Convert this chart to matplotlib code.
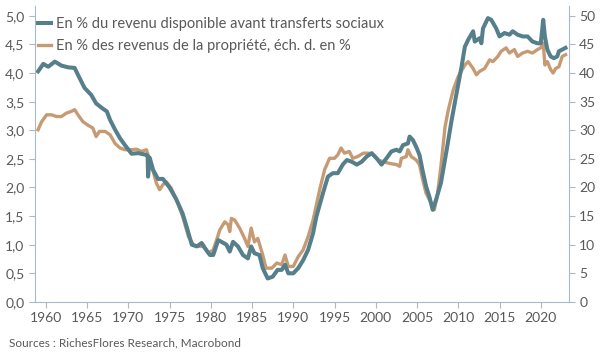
import matplotlib.pyplot as plt
from matplotlib.ticker import FuncFormatter, MultipleLocator

plt.rcParams['font.family'] = ['Lato', 'DejaVu Sans']

# En % du revenu disponible avant transferts sociaux (échelle gauche)
rev_years = [1959.07, 1959.7, 1960.3, 1961.1, 1961.9, 1962.7, 1963.5, 1963.9, 1964.7, 1965.5,
             1966.1, 1966.8, 1967.4, 1967.8, 1968.4, 1969.0, 1969.6, 1970.4, 1971.2, 1972.2,
             1972.35, 1972.4, 1972.6, 1973.0, 1973.6, 1974.2, 1975.0, 1975.8, 1976.6, 1977.1,
             1977.7, 1978.3, 1978.9, 1979.3, 1979.9, 1980.3, 1980.9, 1981.3, 1981.9, 1982.3,
             1982.7, 1983.3, 1983.9, 1984.5, 1984.9, 1985.3, 1985.9, 1986.3, 1986.9, 1987.5,
             1988.1, 1988.6, 1989.0, 1989.4, 1990.0, 1990.6, 1991.2, 1991.8, 1992.4, 1992.8,
             1993.6, 1994.2, 1994.8, 1995.4, 1996.0, 1996.5, 1997.1, 1997.7, 1998.3, 1998.9,
             1999.5, 2000.1, 2000.7, 2001.3, 2001.9, 2002.5, 2002.9, 2003.3, 2003.9, 2004.1,
             2004.5, 2004.9, 2005.3, 2005.7, 2006.1, 2006.5, 2006.9, 2007.3, 2007.9, 2008.6,
             2009.2, 2009.8, 2010.4, 2010.8, 2011.2, 2011.8, 2012.0, 2012.6, 2012.8, 2013.0,
             2013.6, 2014.0, 2014.6, 2015.0, 2015.6, 2016.2, 2016.6, 2017.2, 2017.8, 2018.4,
             2019.0, 2019.6, 2020.0, 2020.3, 2020.5, 2020.8, 2021.2, 2021.6, 2022.0, 2022.2,
             2022.6, 2023.0]
rev_vals = [4.03, 4.16, 4.11, 4.20, 4.13, 4.10, 4.09, 3.97, 3.74, 3.62,
            3.47, 3.39, 3.33, 3.18, 3.01, 2.86, 2.74, 2.59, 2.60, 2.57,
            2.55, 2.19, 2.52, 2.31, 2.15, 2.15, 2.00, 1.80, 1.54, 1.30,
            1.00, 0.97, 1.03, 0.94, 0.82, 0.82, 1.08, 1.05, 1.00, 0.88,
            1.05, 0.97, 0.82, 0.76, 0.97, 0.85, 0.82, 0.59, 0.41, 0.44,
            0.56, 0.56, 0.65, 0.50, 0.50, 0.59, 0.73, 0.91, 1.20, 1.49,
            1.90, 2.19, 2.25, 2.25, 2.40, 2.48, 2.45, 2.40, 2.45, 2.54,
            2.60, 2.51, 2.40, 2.51, 2.63, 2.66, 2.63, 2.74, 2.77, 2.89,
            2.83, 2.71, 2.57, 2.28, 2.02, 1.84, 1.61, 1.78, 2.08, 2.66,
            3.18, 3.65, 4.11, 4.46, 4.58, 4.73, 4.55, 4.61, 4.52, 4.78,
            4.96, 4.93, 4.78, 4.64, 4.70, 4.67, 4.73, 4.67, 4.64, 4.64,
            4.55, 4.52, 4.52, 4.93, 4.64, 4.41, 4.29, 4.26, 4.29, 4.38,
            4.41, 4.44]

# En % des revenus de la propriété (échelle droite)
prop_years = [1959.07, 1959.5, 1960.1, 1960.7, 1961.3, 1961.9, 1962.5, 1963.1, 1963.5, 1963.9,
              1964.5, 1965.1, 1965.7, 1966.1, 1966.5, 1967.2, 1967.8, 1968.4, 1969.0, 1969.6,
              1970.4, 1971.0, 1971.6, 1972.2, 1972.8, 1973.4, 1973.8, 1974.2, 1974.6, 1975.2,
              1976.0, 1976.6, 1977.3, 1977.9, 1978.5, 1979.1, 1979.7, 1980.3, 1980.7, 1981.1,
              1981.7, 1982.1, 1982.3, 1982.5, 1982.9, 1983.5, 1984.1, 1984.5, 1984.9, 1985.3,
              1985.7, 1986.3, 1986.7, 1987.4, 1988.0, 1988.6, 1989.0, 1989.4, 1990.0, 1990.6,
              1991.2, 1991.8, 1992.4, 1993.2, 1993.8, 1994.4, 1995.0, 1995.4, 1995.8, 1996.2,
              1996.8, 1997.2, 1997.8, 1998.5, 1999.1, 1999.7, 2000.3, 2000.9, 2001.7, 2002.5,
              2002.9, 2003.1, 2003.7, 2003.9, 2004.3, 2004.9, 2005.3, 2005.7, 2006.1, 2006.7,
              2007.1, 2007.5, 2007.9, 2008.4, 2008.8, 2009.4, 2010.0, 2010.8, 2011.2, 2011.8,
              2012.2, 2012.6, 2013.2, 2013.8, 2014.2, 2014.8, 2015.2, 2015.8, 2016.2, 2016.8,
              2017.2, 2017.8, 2018.4, 2019.0, 2019.6, 2020.0, 2020.3, 2020.5, 2020.8, 2021.2,
              2021.5, 2021.8, 2022.2, 2022.6, 2023.0]
prop_vals = [30.1, 31.5, 32.7, 32.7, 32.4, 32.4, 33.0, 33.3, 33.6, 32.7,
             31.5, 30.9, 30.4, 28.9, 29.8, 29.8, 29.2, 27.7, 26.9, 26.6,
             26.6, 26.7, 26.3, 26.6, 24.0, 20.8, 19.6, 20.5, 21.0, 19.9,
             17.3, 14.9, 11.4, 10.0, 9.7, 9.7, 8.5, 9.1, 10.8, 12.6,
             14.0, 13.5, 12.3, 14.6, 14.3, 12.9, 11.1, 9.7, 12.9, 10.5,
             11.1, 8.2, 5.9, 5.9, 6.8, 6.5, 8.2, 6.2, 6.2, 7.9,
             9.1, 11.4, 14.3, 19.6, 23.1, 25.1, 25.1, 25.7, 26.9, 26.0,
             26.3, 25.1, 25.4, 26.0, 26.0, 25.7, 24.8, 24.5, 24.2, 24.0,
             23.7, 25.1, 25.4, 26.6, 25.4, 24.8, 24.0, 21.3, 19.0, 17.3,
             16.1, 19.0, 23.7, 30.6, 33.6, 37.1, 39.4, 41.4, 42.0, 40.8,
             39.7, 40.3, 40.8, 42.3, 42.0, 42.9, 43.8, 44.4, 43.5, 44.1,
             42.9, 43.5, 43.8, 43.5, 44.1, 44.4, 45.2, 41.4, 42.0, 40.6,
             40.0, 40.8, 41.1, 42.9, 43.2]

years_ticks = list(range(1960, 2021, 5))

blue = '#557f8b'
tan = '#c69b74'
txt = '#595959'
spine_col = '#a9b9cb'

fig = plt.figure(figsize=(6, 3.59), dpi=100)
ax = fig.add_axes([0.058, 0.159, 0.89, 0.824])
ax2 = ax.twinx()
ax2.set_zorder(ax.get_zorder() - 1)
ax.patch.set_visible(False)

l2, = ax2.plot(prop_years, prop_vals, color=tan, lw=2.4,
               label='En % des revenus de la propriété, éch. d. en %')
l1, = ax.plot(rev_years, rev_vals, color=blue, lw=2.9,
              label='En % du revenu disponible avant transferts sociaux')

ax.set_xlim(1958.67, 2023.4)
ax.set_ylim(0, 5.17)
ax2.set_ylim(0, 51.7)
ax.set_xticks(years_ticks)
ax.yaxis.set_major_locator(MultipleLocator(0.5))
ax.yaxis.set_major_formatter(FuncFormatter(lambda v, p: f'{v:.1f}'.replace('.', ',')))
ax2.yaxis.set_major_locator(MultipleLocator(5))

for a in (ax, ax2):
    a.spines['top'].set_visible(False)
    for s in ('left', 'right', 'bottom'):
        a.spines[s].set_color(spine_col)
    a.tick_params(colors=spine_col, labelcolor=txt, labelsize=10, length=4)
ax.spines['right'].set_visible(False)
ax2.spines['left'].set_visible(False)
ax2.spines['bottom'].set_visible(False)

ax.legend(handles=[l1, l2], loc='upper left', bbox_to_anchor=(-0.01, 0.993), frameon=False,
          handlelength=0.9, handletextpad=0.3, labelspacing=0.55, fontsize=10.5,
          labelcolor=txt, borderaxespad=0.2)

fig.text(0.015, 0.035, 'Sources : RichesFlores Research, Macrobond', fontsize=8.5, color=txt)

fig.savefig('out.png', dpi=100)
